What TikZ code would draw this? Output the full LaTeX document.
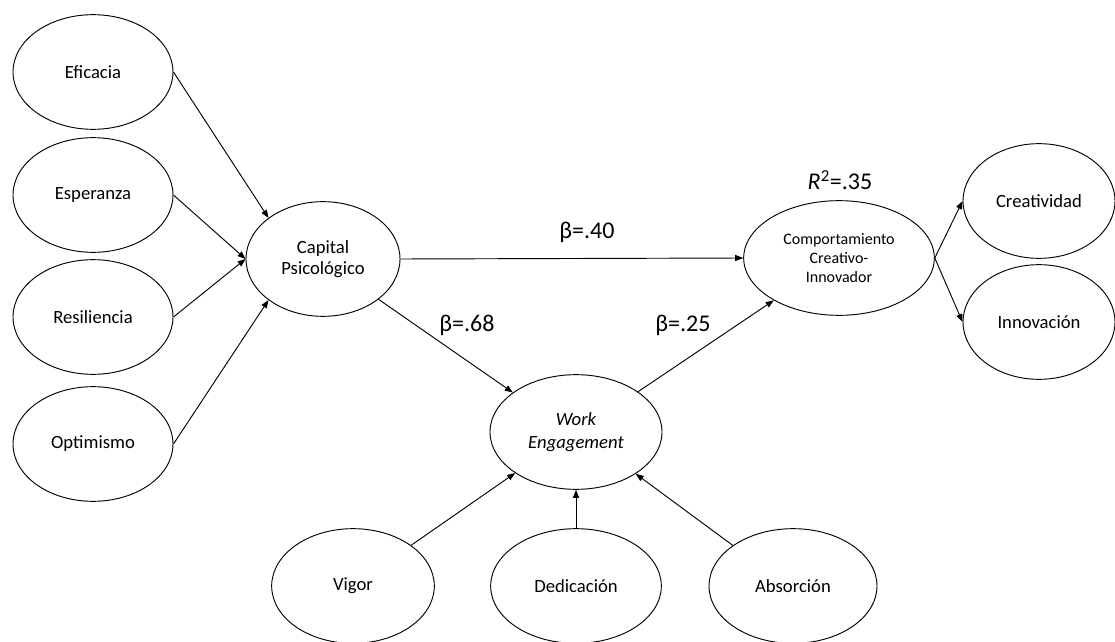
\documentclass[tikz,border=0pt]{standalone}
\usepackage{fontspec}
\setmainfont{Carlito}
\usetikzlibrary{arrows.meta,shapes.geometric}

\begin{document}
\begin{tikzpicture}[x=0.75pt,y=-0.75pt,line width=0.7pt,
  latent/.style={draw,ellipse,inner sep=0pt,minimum width=120pt,minimum height=86pt,
    font=\fontsize{14}{16}\selectfont,align=center},
  link/.style={-{Triangle[length=6pt,width=4.5pt]}},
  coef/.style={font=\fontsize{18}{20}\selectfont}]
  \useasboundingbox (0,0) rectangle (1115,642);
  \node[latent] (efi) at (93,72) {Eficacia};
  \node[latent] (esp) at (93,195) {Esperanza};
  \node[latent] (res) at (93,317) {Resiliencia};
  \node[latent] (opt) at (93,444) {Optimismo};
  \node[latent,minimum width=115.5pt] (cap) at (323,259) {Capital\\Psicológico};
  \node[latent,minimum width=143pt,font=\fontsize{12}{14}\selectfont] (comp) at (839,258) {Comportamiento\\Creativo-\\Innovador};
  \node[latent,minimum width=114pt] (crea) at (1039,201) {Creatividad};
  \node[latent,minimum width=114pt] (inno) at (1039,322) {Innovación};
  \node[latent,minimum width=129pt,font=\fontsize{14}{17}\selectfont\itshape] (we) at (576,432) {Work\\Engagement};
  \node[latent,minimum width=122pt] (vig) at (353,586) {Vigor};
  \node[latent,minimum width=128pt] (ded) at (576,586) {Dedicación};
  \node[latent,minimum width=126pt] (abs) at (793,586) {Absorción};
  \node[coef] (b40) at (587,232) {β=.40};
  \node[coef] (b68) at (467,325) {β=.68};
  \node[coef] (b25) at (683,325) {β=.25};
  \node[coef] (r2) at (840,180) {\textit{R}\textsuperscript{2}=.35};
  \draw[link] (efi.east) -- (cap.143);
  \draw[link] (esp.east) -- (cap.west);
  \draw[link] (res.east) -- (cap.west);
  \draw[link] (opt.east) -- (cap.217);
  \draw[link] (cap.east) -- (comp.west);
  \draw[link] (cap.-36) -- (we.148);
  \draw[link] (we.33) -- (comp.213);
  \draw[link] (comp.east) -- (crea.west);
  \draw[link] (comp.east) -- (inno.west);
  \draw[link] (vig.35) -- (we.214);
  \draw[link] (ded.north) -- (we.south);
  \draw[link] (abs.146) -- (we.325);
\end{tikzpicture}
\end{document}
